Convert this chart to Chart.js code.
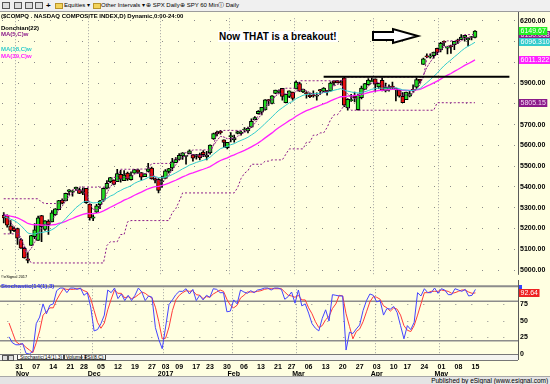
<!DOCTYPE html>
<html>
<head>
<meta charset="utf-8">
<title>$COMPQ daily</title>
<script src="https://cdn.jsdelivr.net/npm/chart.js@4.4.1/dist/chart.umd.min.js"></script>
<style>
  body { margin: 0; width: 550px; height: 384px; overflow: hidden; position: relative;
         background: #ffffe1; font-family: "Liberation Sans", Arial, sans-serif; }
  .abs { position: absolute; white-space: nowrap; z-index: 5; }
  #toolbar { left: 0; top: 0; width: 550px; height: 11px; background: #f0f0f0;
             border-bottom: 1px solid #9c9c9c; font-size: 6px; line-height: 11px; }
  #toolbar span { position: absolute; top: 0; }
  .ico { display: inline-block; width: 6px; height: 5px; border: 1px solid #555; top: 2px !important; background: #ddd; }
  .fold { display: inline-block; width: 6px; height: 4px; background: #f3d35b; border: 1px solid #b8942a; top: 3px !important; }
  #priceBox { position: absolute; left: 0; top: 12px; width: 550px; height: 269px; }
  #stochBox { position: absolute; left: 0; top: 280px; width: 550px; height: 104px; }
  .lbl { font-weight: bold; font-size: 6px; line-height: 7px; }
  #tabs { left: 0; top: 354px; width: 518px; height: 5px; background: #f4f4f0;
          border-top: 1px solid #777; border-bottom: 1px solid #777; font-size: 5px; line-height: 5px; }
  #tabs span { position: absolute; top: 0; }
  #footer { left: 0; top: 376px; width: 550px; height: 8px; background: #e4e4e4;
            border-top: 1px solid #a8a8a8; font-size: 6.5px; line-height: 8px; text-align: right; }
  #note { left: 218px; top: 31px; font-weight: bold; font-size: 10px; line-height: 11px; background: #fff; padding: 0 1px; }
</style>
</head>
<body>
<div id="toolbar" class="abs">
  <span class="ico" style="left:2px"></span>
  <span class="ico" style="left:14px"></span>
  <span class="ico" style="left:25px"></span>
  <span class="ico" style="left:35px"></span>
  <span style="left:46px;font-weight:bold;font-size:8px">+</span>
  <span class="fold" style="left:55px"></span>
  <span style="left:64px">Equities &#9662;</span>
  <span class="fold" style="left:93px"></span>
  <span style="left:101px">Other Intervals &#9662;</span>
  <span style="left:146px">&#8853; SPX Daily</span>
  <span style="left:180px">&#8853; SPY 60 Min</span>
  <span style="left:218px">&#9432; Daily</span>
</div>

<div id="priceBox"><canvas id="price"></canvas></div>
<div id="stochBox"><canvas id="stoch"></canvas></div>

<div class="abs lbl" style="left:1px;top:13px">($COMPQ . NASDAQ COMPOSITE INDEX,D) Dynamic,0:00-24:00</div>
<div class="abs lbl" style="left:1px;top:25px">Donchian(22)</div>
<div class="abs lbl" style="left:1px;top:31px;color:#8b1a89">MA(5,C)w</div>
<div class="abs lbl" style="left:1px;top:46px;color:#33cccc">MA(18,C)w</div>
<div class="abs lbl" style="left:1px;top:53px;color:#ff22ff">MA(39,C)w</div>
<div class="abs" style="left:1px;top:275px;font-size:4px;line-height:4px">&copy;eSignal 2017</div>
<div class="abs lbl" style="left:1px;top:283px;color:#3333ee">Stochastic(14(1),3)</div>

<div id="note" class="abs">Now THAT is a breakout!</div>
<svg class="abs" style="left:370px;top:27px" width="52" height="18">
  <polygon points="3,5 23,5 23,2 48,9 23,16 23,13 3,13" fill="#fff" stroke="#000" stroke-width="2"/>
</svg>

<div id="tabs" class="abs">
  <span style="left:2px;width:4px;height:4px;border:1px solid #555;background:#ddd"></span>
  <span style="left:8px;width:4px;height:4px;border:1px solid #555;background:#ddd"></span>
  <span style="left:17px;padding:0 2px;background:#fff;border:1px solid #444;border-top:none;height:4px">Stochastic(14(1),3)</span>
  <span style="left:63px;padding:0 2px;border:1px solid #444;border-top:none;height:4px">Volume</span>
  <span style="left:81px;padding:0 2px;border:1px solid #444;border-top:none;height:4px">RSI(8,C)</span>
</div>
<div id="footer" class="abs">Published by eSignal (www.esignal.com)&nbsp;</div>

<script>
// daily bars, 26 Oct 2016 .. 15 May 2017
const opens = [
  5263,5264,5213,5202,5200,5147,5105,5054,5118,5161,
  5143,5262,5196,5235,5232,5266,5291,5335,5333,5378,
  5375,5390,5387,5371,5393,5317,5249,5278,5314,5336,
  5394,5425,5433,5425,5460,5430,5466,5435,5466,5482,
  5469,5449,5475,5491,5439,5436,5425,5441,5475,5491,
  5517,5532,5549,5547,5560,5554,5547,5556,5568,5545,
  5565,5631,5664,5667,5627,5589,5642,5626,5657,5658,
  5674,5670,5688,5724,5752,5760,5770,5820,5802,5850,
  5857,5874,5806,5835,5856,5872,5897,5857,5850,5842,
  5842,5837,5868,5859,5862,5862,5911,5912,5902,5925,
  5780,5815,5837,5772,5830,5869,5892,5907,5920,5881,
  5913,5862,5869,5881,5874,5866,5836,5820,5837,5870,
  5880,5918,5990,6027,6025,6032,6067,6059,6100,6068,
  6080,6085,6104,6109,6120,6107,6119,6120
];
const highs = [
  5276,5266,5238,5207,5202,5151,5110,5084,5167,5223,
  5260,5263,5238,5241,5286,5296,5335,5343,5370,5387,
  5382,5399,5394,5395,5393,5317,5266,5316,5336,5395,
  5431,5446,5434,5485,5480,5479,5471,5473,5485,5486,
  5469,5463,5513,5496,5442,5440,5452,5483,5489,5537,
  5541,5561,5565,5547,5578,5557,5557,5563,5575,5571,
  5603,5659,5669,5672,5627,5615,5661,5650,5669,5669,
  5686,5688,5728,5739,5767,5783,5820,5822,5839,5866,
  5867,5875,5846,5863,5857,5911,5903,5871,5859,5852,
  5862,5853,5870,5878,5865,5906,5911,5913,5912,5929,
  5825,5846,5857,5847,5885,5898,5921,5923,5920,5899,
  5925,5900,5891,5905,5876,5867,5854,5857,5865,5891,
  5925,5918,6020,6041,6041,6049,6068,6096,6103,6076,
  6083,6101,6111,6133,6129,6118,6125,6153
];
const lows = [
  5227,5206,5176,5185,5123,5104,5057,5034,5118,5151,
  5142,5136,5191,5171,5232,5262,5291,5318,5333,5362,
  5356,5383,5367,5363,5321,5240,5238,5276,5295,5330,
  5390,5421,5409,5425,5423,5430,5431,5433,5465,5465,
  5432,5449,5473,5437,5419,5371,5397,5441,5466,5478,
  5517,5530,5532,5509,5560,5524,5534,5530,5545,5530,
  5557,5628,5645,5654,5590,5583,5616,5615,5655,5649,
  5665,5660,5686,5723,5750,5747,5769,5792,5800,5849,
  5851,5817,5804,5830,5817,5872,5859,5853,5827,5829,
  5832,5818,5845,5858,5841,5861,5890,5901,5891,5786,
  5769,5811,5809,5769,5823,5869,5890,5907,5857,5874,
  5862,5857,5861,5871,5814,5832,5805,5820,5833,5856,
  5874,5899,5990,6022,6020,6020,6037,6050,6078,6040,
  6042,6061,6089,6109,6101,6078,6107,6117
];
const closes = [
  5250.27,5215.97,5190.10,5189.13,5153.58,5105.57,5058.41,5046.37,5166.17,5193.49,
  5251.07,5208.80,5237.11,5218.40,5275.62,5294.58,5333.97,5321.51,5368.86,5386.35,
  5380.68,5398.92,5368.81,5379.92,5323.68,5251.11,5255.65,5308.89,5333.00,5393.76,
  5417.36,5444.50,5412.54,5463.83,5436.67,5456.85,5437.16,5457.44,5483.94,5471.43,
  5447.42,5462.69,5487.44,5438.56,5432.09,5383.12,5429.08,5477.00,5487.94,5521.06,
  5531.82,5551.82,5563.65,5547.49,5574.12,5538.73,5555.65,5540.08,5555.33,5552.94,
  5600.96,5656.34,5655.18,5660.78,5613.71,5614.79,5642.65,5636.20,5666.77,5663.55,
  5674.22,5682.45,5715.18,5734.13,5763.96,5782.57,5819.44,5814.90,5838.58,5865.95,
  5860.63,5835.51,5845.31,5861.90,5825.44,5904.03,5861.22,5870.75,5849.18,5833.93,
  5837.55,5838.81,5861.73,5875.78,5856.82,5900.05,5900.76,5901.00,5901.53,5793.83,
  5821.64,5817.69,5828.74,5840.37,5875.14,5897.55,5914.34,5911.74,5894.68,5898.61,
  5864.48,5878.95,5877.81,5880.93,5866.77,5836.16,5805.15,5856.79,5849.47,5863.03,
  5916.78,5910.52,6016.70,6025.49,6025.23,6048.94,6047.61,6091.60,6095.37,6072.55,
  6075.34,6100.76,6102.66,6120.59,6129.14,6115.96,6121.23,6149.67
];

// weighted moving averages MA(5,C)w, MA(18,C)w, MA(39,C)w
const wma5 = [
  5271,5254,5229,5209,5185,5154,5116,5085,5104,5133,
  5178,5200,5222,5224,5242,5261,5290,5307,5333,5356,
  5369,5383,5382,5381,5362,5322,5292,5290,5300,5333,
  5369,5403,5415,5436,5439,5446,5444,5450,5461,5466,
  5462,5463,5470,5460,5450,5427,5423,5437,5456,5482,
  5506,5527,5544,5549,5559,5554,5554,5549,5550,5550,
  5568,5600,5624,5643,5640,5632,5633,5632,5644,5653,
  5663,5671,5688,5706,5729,5752,5780,5798,5816,5837,
  5849,5848,5848,5852,5843,5862,5864,5868,5863,5854,
  5845,5841,5847,5857,5859,5875,5886,5893,5898,5866,
  5846,5831,5825,5827,5845,5866,5886,5900,5902,5903,
  5889,5883,5879,5879,5874,5862,5841,5842,5842,5849,
  5874,5891,5937,5975,6001,6024,6039,6058,6074,6078,
  6079,6087,6092,6103,6114,6118,6120,6130.668
];
const wma18 = [
  5257,5252,5245,5238,5228,5214,5196,5178,5174,5173,
  5179,5180,5184,5186,5194,5204,5218,5230,5247,5266,
  5282,5300,5313,5326,5331,5328,5323,5324,5326,5335,
  5345,5356,5363,5375,5383,5392,5398,5406,5417,5425,
  5431,5437,5446,5449,5450,5445,5444,5448,5452,5459,
  5468,5477,5487,5495,5505,5511,5518,5523,5528,5534,
  5543,5558,5571,5584,5590,5595,5603,5608,5617,5624,
  5631,5639,5650,5661,5675,5689,5706,5721,5737,5754,
  5769,5781,5793,5805,5811,5825,5833,5841,5845,5847,
  5848,5849,5851,5854,5855,5860,5865,5869,5873,5866,
  5861,5857,5854,5852,5854,5858,5864,5870,5873,5876,
  5875,5876,5876,5877,5877,5873,5867,5866,5864,5864,
  5869,5873,5888,5902,5916,5932,5947,5966,5983,5998,
  6011,6026,6039,6054,6067,6077,6086,6096.31029
];
const wma39 = [
  5265,5263,5259,5256,5251,5243,5234,5224,5220,5218,
  5218,5216,5216,5215,5217,5219,5224,5228,5234,5242,
  5248,5256,5262,5268,5272,5271,5272,5274,5278,5285,
  5293,5302,5310,5319,5327,5336,5343,5351,5360,5368,
  5375,5383,5391,5396,5401,5403,5407,5412,5418,5425,
  5432,5440,5448,5455,5463,5468,5474,5480,5485,5491,
  5498,5508,5518,5527,5534,5540,5548,5554,5562,5569,
  5576,5584,5593,5602,5612,5623,5636,5648,5660,5674,
  5686,5697,5708,5719,5728,5740,5750,5759,5767,5773,
  5780,5786,5793,5800,5806,5814,5821,5828,5834,5835,
  5837,5838,5840,5842,5845,5849,5854,5858,5861,5864,
  5865,5867,5868,5869,5870,5868,5865,5865,5864,5864,
  5867,5869,5877,5885,5892,5901,5909,5919,5929,5938,
  5946,5956,5965,5975,5985,5993,6002,6011.32214
];

// Donchian(22) channel
const donchUpper = [
  5343,5343,5343,5343,5343,5343,5343,5343,5343,5343,
  5343,5326,5320,5320,5320,5320,5320,5335,5343,5370,
  5387,5387,5399,5399,5399,5399,5399,5399,5399,5399,
  5399,5431,5446,5446,5485,5485,5485,5485,5485,5485,
  5486,5486,5486,5513,5513,5513,5513,5513,5513,5513,
  5537,5541,5561,5565,5565,5578,5578,5578,5578,5578,
  5578,5603,5659,5669,5672,5672,5672,5672,5672,5672,
  5672,5686,5688,5728,5739,5767,5783,5820,5822,5839,
  5866,5867,5875,5875,5875,5875,5911,5911,5911,5911,
  5911,5911,5911,5911,5911,5911,5911,5911,5913,5913,
  5929,5929,5929,5929,5929,5929,5929,5929,5929,5929,
  5929,5929,5929,5929,5929,5929,5929,5929,5929,5929,
  5929,5929,5925,6020,6041,6041,6049,6068,6096,6103,
  6103,6103,6103,6111,6133,6133,6133,6133
];
const donchLower = [
  5174,5174,5174,5174,5174,5123,5104,5057,5034,5034,
  5034,5034,5034,5034,5034,5034,5034,5034,5034,5034,
  5034,5034,5034,5034,5034,5034,5034,5034,5034,5034,
  5118,5136,5136,5136,5171,5171,5232,5238,5238,5238,
  5238,5238,5238,5238,5238,5238,5238,5238,5238,5276,
  5295,5330,5371,5371,5371,5371,5371,5371,5371,5371,
  5371,5371,5371,5371,5371,5371,5371,5371,5397,5441,
  5466,5478,5509,5509,5509,5509,5524,5524,5530,5530,
  5530,5530,5557,5583,5583,5583,5583,5583,5615,5615,
  5649,5649,5660,5660,5686,5723,5747,5747,5769,5792,
  5786,5769,5769,5769,5769,5769,5769,5769,5769,5769,
  5769,5769,5769,5769,5769,5769,5769,5769,5769,5769,
  5769,5769,5769,5769,5769,5769,5805.15,5805.15,5805.15,5805.15,
  5805.15,5805.15,5805.15,5805.15,5805.15,5805.15,5805.15,5805.15
];

// Stochastic(14(1),3): %K blue, %D red
const stochK = [
  26,17,14,14,16,1,0,4,46,56,
  76,61,74,76,96,100,100,93,100,100,
  98,100,89,93,71,35,37,46,59,97,
  93,100,84,91,81,89,81,89,100,94,
  81,88,86,40,22,8,41,75,82,90,
  95,95,99,91,98,81,89,82,89,86,
  99,98,93,93,64,65,82,76,97,94,
  92,96,93,97,98,100,100,97,100,100,
  98,83,87,94,77,97,73,76,62,46,
  39,35,54,67,50,90,89,88,88,6,
  33,31,38,44,66,81,91,89,79,81,
  59,69,68,72,63,43,23,43,37,48,
  93,88,99,93,93,100,92,99,97,90,
  90,99,97,95,98,88,89,98
];
const stochD = [
  47,33,19,15,15,10,6,2,17,35,
  59,64,70,70,82,91,99,98,98,98,
  99,99,96,94,84,66,48,39,47,67,
  83,97,92,92,85,87,84,86,90,94,
  92,88,85,71,49,23,24,41,66,82,
  89,93,96,95,96,90,89,84,87,86,
  91,94,97,95,83,74,70,74,85,89,
  94,94,94,95,96,98,99,99,99,99,
  99,94,89,88,86,89,82,82,70,61,
  49,40,43,52,57,69,76,89,88,61,
  42,23,34,38,49,64,79,87,86,83,
  73,70,65,70,68,59,43,36,34,43,
  59,76,93,93,95,95,95,97,96,95,
  92,93,95,97,97,94,92,92.64
];
const stochLevels = [20, 80];

// axis ticks
const priceTicks = [5000,5100,5200,5300,5400,5500,5600,5700,5800,5900,6000,6100,6200];
const stochTicks = [0, 25, 50, 75];
const dayTickIdx = [3,8,13,18,22,27,32,37,42,46,50,55,59,64,69,74,79,83,88,93,98,103,108,113,117,122,127,132,137];
const dayTickText = ['31','07','14','21','28','05','12','19','27','03','09','17','23','30','06','13','21','27','06','13','20','27','03','10','17','24','01','08','15'];
const monthTickIdx = [4,25,46,66,85,108,127];
const monthTickText = ['Nov','Dec','2017','Feb','Mar','Apr','May'];

// hand drawn resistance line
const breakLevel = 5930, breakFrom = 93, breakTo = 147;

const N_SLOTS = 150;
const PURPLE = '#8b1a89', CYAN = '#33cccc', MAGENTA = '#ff22ff';
const GREEN = '#22dd22', RED = '#e81010';

Chart.defaults.font.family = '"Liberation Sans", Arial, sans-serif';

const slots = Array.from({ length: N_SLOTS }, (_, i) => i);
const bodies = opens.map((o, i) => [o, closes[i]]);
const bodyColors = opens.map((o, i) => (closes[i] >= o ? GREEN : RED));
const wicks = lows.map((l, i) => [l, highs[i]]);
const breakLine = slots.map(i => (i >= breakFrom && i <= breakTo ? breakLevel : null));

const monthGridColor = ctx => (monthTickIdx.includes(ctx.index) ? '#a0a0a0' : 'rgba(0,0,0,0)');
const last = arr => arr[arr.length - 1];

// draws level lines, panel borders and the value tags on the right axis
const panelPlugin = {
  id: 'panel',
  beforeDatasetsDraw(chart, args, opts) {
    const { ctx, chartArea, scales: { y } } = chart;
    ctx.save();
    ctx.strokeStyle = '#8c8c8c';
    ctx.lineWidth = 1.5;
    (opts.levels || []).forEach(v => {
      const py = y.getPixelForValue(v);
      ctx.beginPath();
      ctx.moveTo(0, py);
      ctx.lineTo(chartArea.right, py);
      ctx.stroke();
    });
    ctx.restore();
  },
  afterDraw(chart, args, opts) {
    const { ctx, chartArea, scales: { y } } = chart;
    ctx.save();
    ctx.strokeStyle = '#5a5a5a';
    ctx.lineWidth = 1;
    ctx.beginPath();
    ctx.moveTo(chartArea.right + 0.5, 0);
    ctx.lineTo(chartArea.right + 0.5, chartArea.bottom + (opts.borderExtra || 0));
    ctx.stroke();
    if (opts.topLine) {
      ctx.strokeStyle = '#8c8c8c';
      ctx.lineWidth = 2;
      ctx.beginPath();
      ctx.moveTo(0, chartArea.top);
      ctx.lineTo(chartArea.right, chartArea.top);
      ctx.stroke();
    }
    ctx.font = '7px "Liberation Sans", Arial';
    ctx.textBaseline = 'middle';
    (opts.tags || []).forEach(t => {
      const py = Math.round(y.getPixelForValue(t.value));
      const w = ctx.measureText(t.text).width + 3;
      ctx.fillStyle = t.bg;
      ctx.fillRect(chartArea.right + 1, py - 4, w, 8);
      ctx.fillStyle = t.fg;
      ctx.fillText(t.text, chartArea.right + 2.5, py + 0.5);
    });
    ctx.restore();
  }
};

const lineSet = (data, color, width, dash, order) => ({
  type: 'line', data, borderColor: color, borderWidth: width, borderDash: dash,
  pointRadius: 0, tension: 0, fill: false, order
});

new Chart(document.getElementById('price'), {
  type: 'bar',
  data: {
    labels: slots,
    datasets: [
      lineSet(breakLine, '#000', 2, [], 0),
      lineSet(wma5, PURPLE, 1, [2, 1], 1),
      lineSet(donchUpper, PURPLE, 1, [2, 2], 1),
      lineSet(donchLower, PURPLE, 1, [2, 2], 1),
      lineSet(wma18, CYAN, 1, [], 2),
      lineSet(wma39, MAGENTA, 1.3, [], 2),
      { data: bodies, backgroundColor: bodyColors, borderColor: '#000', borderWidth: 1,
        borderSkipped: false, barThickness: 4, minBarLength: 1, grouped: false, order: 5 },
      { data: wicks, backgroundColor: '#000', barThickness: 1, grouped: false, order: 6 }
    ]
  },
  plugins: [panelPlugin],
  options: {
    animation: false, responsive: true, maintainAspectRatio: false, events: [],
    layout: { padding: { left: 2, right: 0, top: 0, bottom: 0 } },
    plugins: {
      legend: { display: false }, tooltip: { enabled: false },
      panel: {
        tags: [
          { value: last(wma5), text: last(wma5).toFixed(3), bg: PURPLE, fg: '#f4d8f4' },
          { value: last(closes), text: last(closes).toFixed(2), bg: '#22ee22', fg: '#ffffff' },
          { value: last(wma18), text: last(wma18).toFixed(5), bg: CYAN, fg: '#ffffff' },
          { value: last(wma39), text: last(wma39).toFixed(5), bg: MAGENTA, fg: '#ffffff' },
          { value: last(donchLower), text: last(donchLower).toFixed(2), bg: PURPLE, fg: '#f4d8f4' }
        ]
      }
    },
    scales: {
      x: {
        type: 'category', offset: true,
        grid: { offset: true, color: monthGridColor, drawTicks: false, lineWidth: 1 },
        border: { display: false, dash: [1, 2] },
        ticks: { display: false, autoSkip: false },
        afterFit: s => { s.height = 0; }
      },
      y: {
        position: 'right', min: 4977, max: 6212,
        afterBuildTicks: s => { s.ticks = priceTicks.map(v => ({ value: v })); },
        ticks: { color: '#000', padding: 2, font: { size: 7, weight: 'bold' }, callback: v => Number(v).toFixed(2) },
        grid: { color: '#8a8a8a', drawTicks: false, lineWidth: 1 },
        border: { display: false, dash: [1, 15] },
        afterFit: s => { s.width = 32; }
      }
    }
  }
});

new Chart(document.getElementById('stoch'), {
  type: 'line',
  data: {
    labels: slots,
    datasets: [
      lineSet(stochK, '#4444ff', 1, [], 0),
      lineSet(stochD, '#ff3b3b', 1, [], 1)
    ]
  },
  plugins: [panelPlugin],
  options: {
    animation: false, responsive: true, maintainAspectRatio: false, events: [],
    layout: { padding: { left: 2, right: 0, top: 1, bottom: 0 } },
    plugins: {
      legend: { display: false }, tooltip: { enabled: false },
      panel: {
        levels: stochLevels, topLine: true, borderExtra: 6,
        tags: [
          { value: last(stochK), text: '', bg: '#3344ff', fg: '#fff' },
          { value: last(stochD), text: last(stochD).toFixed(2), bg: '#ee2222', fg: '#ffffff' }
        ]
      }
    },
    scales: {
      x: {
        type: 'category', offset: true, weight: 0,
        grid: { offset: true, color: monthGridColor, drawTicks: false, lineWidth: 1 },
        border: { display: false, dash: [1, 2] },
        ticks: {
          autoSkip: false, maxRotation: 0, minRotation: 0, padding: 9, color: '#000',
          font: { size: 7, weight: 'bold' },
          callback: (v, i) => { const k = dayTickIdx.indexOf(i); return k < 0 ? '' : dayTickText[k]; }
        },
        afterFit: s => { s.height = 16; }
      },
      x2: {
        type: 'category', offset: true, position: 'bottom', weight: 1,
        grid: { display: false, drawTicks: false },
        border: { display: false },
        ticks: {
          autoSkip: false, maxRotation: 0, minRotation: 0, padding: 0, color: '#000',
          font: { size: 7, weight: 'bold' },
          callback: (v, i) => { const k = monthTickIdx.indexOf(i); return k < 0 ? '' : monthTickText[k]; }
        },
        afterFit: s => { s.height = 14; }
      },
      y: {
        position: 'right', min: 0, max: 102.8,
        afterBuildTicks: s => { s.ticks = stochTicks.map(v => ({ value: v })); },
        ticks: { color: '#000', padding: 2, font: { size: 7, weight: 'bold' } },
        grid: { color: '#8a8a8a', drawTicks: false, lineWidth: 1 },
        border: { display: false, dash: [1, 15] },
        afterFit: s => { s.width = 32; }
      }
    }
  }
});
</script>
</body>
</html>
